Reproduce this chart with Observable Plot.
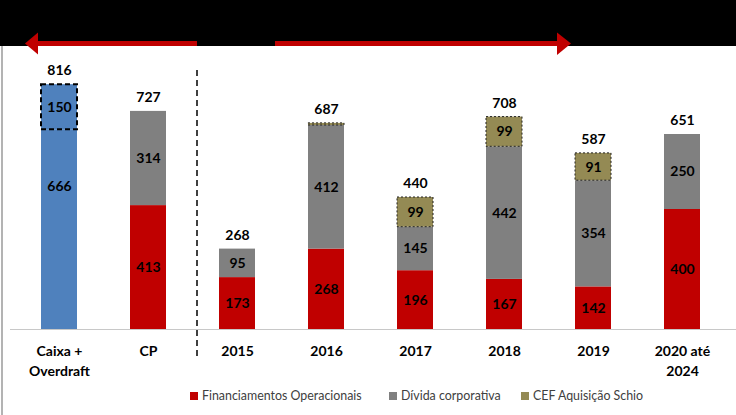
<!DOCTYPE html>
<html>
<head>
<meta charset="utf-8">
<script src="https://cdn.jsdelivr.net/npm/d3@7"></script>
<script src="https://cdn.jsdelivr.net/npm/@observablehq/plot@0.6"></script>
<style>
  html, body { margin: 0; padding: 0; background: #fff; }
  #wrap { position: relative; width: 736px; height: 415px; overflow: hidden; font-family: Lato, sans-serif; }
  #legend { position: absolute; left: 0; top: 388px; width: 736px; height: 18px; font-size: 12.4px; color: #404040; }
  .item { position: absolute; top: 0; display: flex; align-items: center; white-space: nowrap; }
  .sw { width: 8px; height: 8px; margin-right: 4px; display: inline-block; }
</style>
</head>
<body>
<div id="wrap"><div id="chart"></div><div id="legend"></div></div>
<script>
// ---- data ----
const categories = ["Caixa +\nOverdraft", "CP", "2015", "2016", "2017", "2018", "2019", "2020 até\n2024"];
const caixa          = [666, 0, 0, 0, 0, 0, 0, 0];
const overdraft      = [150, 0, 0, 0, 0, 0, 0, 0];
const financiamentos = [0, 413, 173, 268, 196, 167, 142, 400];
const divida         = [0, 314, 95, 412, 145, 442, 354, 250];
const cef            = [0, 0, 0, 7, 99, 99, 91, 0];
const totals         = [816, 727, 268, 687, 440, 708, 587, 651];
const seriesNames = ["Caixa", "Overdraft", "Financiamentos Operacionais", "Dívida corporativa", "CEF Aquisição Schio"];
const legendNames = ["Financiamentos Operacionais", "Dívida corporativa", "CEF Aquisição Schio"];

// ---- styles ----
const seriesColors = ["#4F81BD", "#4F81BD", "#C00000", "#808080", "#948A54"];

// ---- build stacked rows ----
const seriesValues = [caixa, overdraft, financiamentos, divida, cef];
const rows = [];
categories.forEach((cat, i) => {
  let acc = 0;
  seriesNames.forEach((s, k) => {
    const v = seriesValues[k][i];
    if (v > 0) { rows.push({cat, series: s, value: v, y1: acc, y2: acc + v}); acc += v; }
  });
});
const totalRows = categories.map((cat, i) => ({cat, total: totals[i]}));

const labelRows = rows.filter(d => d.value >= 20 && d.series !== "Caixa");
const caixaLabel = rows.filter(d => d.series === "Caixa");
const dashedBig = rows.filter(d => d.series === "Overdraft");
const dashedSmall = rows.filter(d => d.series === "CEF Aquisição Schio");

const textStyle = {fontSize: 14, fontWeight: "bold", fill: "#000"};

const plot = Plot.plot({
  width: 736,
  height: 415,
  marginLeft: 10,
  marginRight: 0,
  marginTop: 59,
  marginBottom: 86,
  style: {fontFamily: "Lato, sans-serif", background: "transparent"},
  x: {type: "band", domain: categories, range: [22.2, 717.8], paddingInner: 0.596, paddingOuter: 0.2, axis: null},
  y: {domain: [0, 900], range: [329, 59], axis: null},
  color: {domain: seriesNames, range: seriesColors},
  marks: [
    Plot.rectY(rows, {x: "cat", y1: "y1", y2: "y2", fill: "series"}),
    Plot.rectY(dashedBig, {x: "cat", y1: "y1", y2: "y2", fill: "none", stroke: "#000", strokeWidth: 2, strokeDasharray: "5,3"}),
    Plot.rectY(dashedSmall, {x: "cat", y1: "y1", y2: "y2", fill: "none", stroke: "#222", strokeWidth: 1, strokeDasharray: "2,2"}),
    Plot.ruleY([0], {stroke: "#c8c8c8", strokeWidth: 1}),
    Plot.text(labelRows, {x: "cat", y: d => (d.y1 + d.y2) / 2, text: d => String(d.value), ...textStyle}),
    Plot.text(caixaLabel, {x: "cat", y: d => (d.y1 + d.y2) / 2, text: d => String(d.value), dy: -43, ...textStyle}),
    Plot.text(totalRows, {x: "cat", y: "total", text: d => String(d.total), dy: -14, ...textStyle}),
    Plot.text(categories, {x: d => d, y: () => 0, text: d => d, dy: 13, lineAnchor: "top", lineHeight: 1.4, ...textStyle})
  ]
});
document.getElementById("chart").appendChild(plot);

// ---- decorations: black header band, arrows, separator, frame ----
const svgSel = d3.select(plot);
const deco = svgSel.insert("g", ":first-child");
deco.append("rect").attr("x", 0).attr("y", 0).attr("width", 736).attr("height", 46).attr("fill", "#000");
deco.append("line").attr("x1", 2).attr("x2", 2).attr("y1", 46).attr("y2", 415).attr("stroke", "#9a9a9a").attr("stroke-width", 1.5);
const overlay = svgSel.append("g");
const arrowRed = "#C00000";
overlay.append("rect").attr("x", 36).attr("y", 41).attr("width", 161).attr("height", 5).attr("fill", arrowRed);
overlay.append("path").attr("d", "M25,43.5 L38,32.5 L38,54.5 Z").attr("fill", arrowRed);
overlay.append("rect").attr("x", 275).attr("y", 41).attr("width", 284).attr("height", 5).attr("fill", arrowRed);
overlay.append("path").attr("d", "M571,43.5 L557,32.5 L557,55 Z").attr("fill", arrowRed);
overlay.append("line").attr("x1", 197).attr("x2", 197).attr("y1", 70).attr("y2", 359)
  .attr("stroke", "#000").attr("stroke-width", 1.5).attr("stroke-dasharray", "6,4");

// ---- legend ----
const legendX = [190, 389, 521];
const legendSel = d3.select("#legend");
legendNames.forEach((name, i) => {
  const k = seriesNames.indexOf(name);
  const it = legendSel.append("div").attr("class", "item").style("left", legendX[i] + "px");
  it.append("span").attr("class", "sw").style("background", seriesColors[k]);
  it.append("span").text(name);
});
</script>
</body>
</html>
